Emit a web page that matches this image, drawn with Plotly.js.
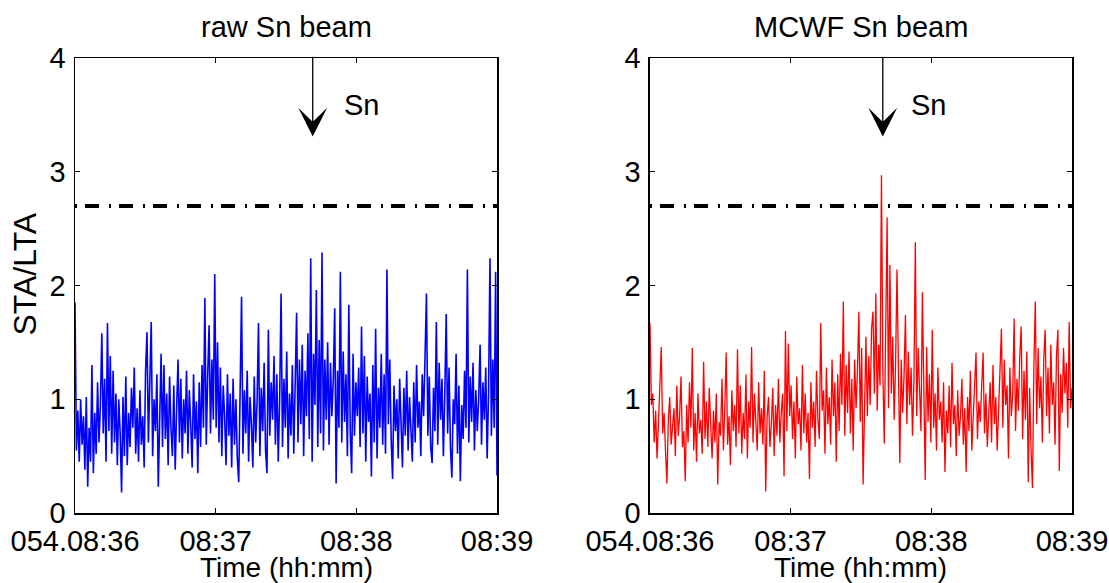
<!DOCTYPE html>
<html>
<head>
<meta charset="utf-8">
<script src="https://cdn.plot.ly/plotly-3.0.1.min.js"></script>
<style>html,body{margin:0;padding:0;background:#fff;}#chart{width:1109px;height:583px;}</style>
</head>
<body>
<div id="chart"></div>
<script>
// ---- data ----
const panelTitles = ['raw Sn beam', 'MCWF Sn beam'];
const xTitle = 'Time (hh:mm)';
const yTitle = 'STA/LTA';
const tickVals = [0, 1, 2, 3];
const tickLabels = ['054.08:36', '08:37', '08:38', '08:39'];
const durationMin = 3;           // minutes shown per panel
const threshold = 2.7;           // STA/LTA trigger level
const snArrowX = [1.69, 1.655];  // Sn arrival (minutes after 08:36)
const snLabelX = [2.04, 1.98];

const rawSn = [
1.85,0.55,0.90,0.45,1.00,0.60,0.85,0.38,1.02,0.23,0.75,0.45,1.30,0.35,0.88,0.52,1.15,0.62,0.95,1.58,
0.70,1.18,0.45,1.67,0.72,1.38,0.52,1.25,0.62,1.05,0.42,1.00,0.70,0.18,1.02,0.50,1.20,0.42,0.88,0.58,
1.10,0.75,1.28,0.52,0.92,0.45,1.08,0.60,0.85,0.40,1.25,1.59,0.62,1.15,1.68,0.50,1.00,0.72,1.22,0.23,
0.90,1.40,0.58,1.30,0.65,1.05,0.42,1.20,0.75,0.50,1.12,0.38,0.92,1.35,0.62,1.18,0.48,1.00,0.70,1.25,
0.52,1.08,0.78,0.40,1.22,0.65,0.98,0.35,1.15,0.58,1.30,0.75,1.89,0.60,1.20,1.65,0.70,1.35,0.82,2.10,
0.75,1.50,0.62,1.28,0.50,1.12,0.85,0.42,1.22,0.68,1.05,0.40,1.18,0.60,1.00,0.48,0.27,1.10,1.90,0.52,
1.08,0.70,1.25,0.45,1.02,0.78,0.40,1.20,0.62,0.98,1.67,0.50,1.10,0.72,1.32,0.55,0.35,1.61,0.68,1.15,
0.82,1.38,0.60,1.22,0.45,1.00,1.93,0.58,1.18,0.75,1.42,0.48,1.05,0.68,1.30,0.52,1.12,1.76,0.62,1.35,
0.78,1.48,0.50,1.25,0.85,1.58,0.65,2.24,0.45,1.40,0.95,1.96,0.58,1.52,0.70,2.29,0.55,1.35,0.82,1.50,
0.60,1.32,0.85,1.18,1.80,0.26,1.25,0.75,2.12,0.62,1.42,0.80,1.22,0.50,1.83,0.72,0.35,1.40,0.68,1.15,
0.85,1.28,0.58,1.64,0.70,1.38,0.45,1.20,0.80,1.05,0.32,1.30,0.62,1.62,0.48,1.10,0.75,1.40,0.60,1.22,
0.52,2.14,0.78,1.35,0.65,0.30,1.12,0.72,1.00,0.48,1.18,0.82,0.40,1.10,0.68,1.25,0.55,1.02,0.78,0.45,
1.15,0.62,1.30,0.75,0.98,0.50,1.22,0.85,1.38,1.93,0.68,1.20,0.58,0.44,1.10,0.72,1.68,0.60,1.32,0.82,
1.18,0.50,1.05,1.75,0.70,1.28,0.58,0.31,1.00,0.78,1.40,0.52,1.12,0.28,0.95,0.65,1.25,0.75,2.14,0.62,
1.20,0.80,1.32,0.55,1.08,0.72,1.00,1.48,0.60,1.15,0.82,1.28,0.48,1.05,2.24,0.68,1.35,0.75,2.12,0.33
];

const mcwfSn = [
1.67,0.95,1.05,0.62,0.90,0.48,0.78,1.10,1.46,0.70,0.88,0.55,0.26,0.82,1.02,0.60,0.75,0.92,0.50,1.12,
0.68,0.85,1.20,0.58,0.72,0.28,0.95,0.62,1.15,0.75,1.45,0.55,0.88,0.45,1.05,0.70,0.82,0.52,1.33,0.65,
0.98,0.58,1.10,0.72,0.48,0.90,0.62,1.05,0.25,0.80,0.68,1.18,0.55,0.92,1.41,0.60,0.85,0.42,1.08,0.72,
0.95,0.58,1.44,0.70,1.12,0.52,0.88,0.65,1.22,0.48,0.98,0.75,1.46,0.62,1.05,0.80,0.55,1.15,0.70,0.92,
0.60,1.25,0.19,0.85,1.02,0.58,0.78,1.10,0.50,0.95,0.68,1.18,0.62,0.88,1.05,0.32,1.60,0.72,1.49,0.85,
1.12,0.65,0.98,0.48,1.20,0.78,0.92,0.55,1.30,0.70,1.05,0.62,0.88,0.30,1.15,0.75,0.98,0.58,1.25,0.82,
0.65,1.67,0.90,1.08,0.52,1.28,0.78,1.02,0.60,1.35,0.85,1.15,0.45,1.22,0.72,1.40,0.95,1.86,0.68,1.30,
0.88,1.42,0.70,1.18,0.55,1.35,0.92,1.25,1.77,0.80,1.45,0.25,1.10,1.55,0.85,1.38,0.95,1.62,1.77,1.05,
1.93,0.90,1.48,1.12,2.97,1.25,0.61,1.40,2.60,0.92,2.18,1.05,1.55,0.82,1.30,2.14,1.02,0.44,1.35,0.88,
1.20,1.74,0.78,1.42,0.95,1.28,0.68,1.15,2.38,0.85,1.45,1.05,0.72,1.94,1.10,0.29,1.46,0.80,1.22,0.62,
1.61,0.75,1.05,0.55,1.28,0.82,0.98,0.62,1.15,0.36,0.90,0.70,1.12,0.58,1.32,0.78,0.95,0.50,1.08,0.68,
0.85,1.18,0.60,0.92,0.36,1.02,0.72,1.25,0.55,0.88,1.10,1.41,0.65,0.98,0.80,1.20,1.41,0.70,1.05,0.58,
0.92,1.15,0.62,1.30,0.78,1.02,0.55,0.88,1.22,1.62,0.75,1.35,0.95,1.12,0.48,1.28,0.85,1.05,1.71,0.72,
1.18,0.90,1.38,1.64,0.65,1.25,0.82,1.42,0.27,1.10,0.55,0.22,1.30,1.86,0.78,1.45,0.92,1.20,0.62,1.35,
1.61,0.85,1.28,0.70,1.48,0.95,1.15,0.60,1.38,1.61,0.37,1.22,0.88,1.45,1.05,1.32,0.75,1.68,0.92,1.10
];

// sample times (minutes after 08:36), evenly sampled
function sampleTimes(n) {
  const dt = durationMin / (n - 1);
  return Array.from({length: n}, (_, i) => i * dt);
}

const FONT = 'Liberation Sans, Arial, Helvetica, sans-serif';
const FS = 29;

const traces = [
  {x: sampleTimes(rawSn.length), y: rawSn, xaxis: 'x', yaxis: 'y', type: 'scatter', mode: 'lines',
   line: {color: '#0000ff', width: 1.6}, showlegend: false, hoverinfo: 'skip'},
  {x: [0, durationMin], y: [threshold, threshold], xaxis: 'x', yaxis: 'y', type: 'scatter', mode: 'lines',
   line: {color: '#000', width: 4, dash: '2px,8px,14px,10px'}, showlegend: false, hoverinfo: 'skip'},
  {x: sampleTimes(mcwfSn.length), y: mcwfSn, xaxis: 'x2', yaxis: 'y2', type: 'scatter', mode: 'lines',
   line: {color: '#ff0000', width: 1.3}, showlegend: false, hoverinfo: 'skip'},
  {x: [0, durationMin], y: [threshold, threshold], xaxis: 'x2', yaxis: 'y2', type: 'scatter', mode: 'lines',
   line: {color: '#000', width: 4, dash: '2px,8px,14px,10px'}, showlegend: false, hoverinfo: 'skip'}
];

function xAxis(domain) {
  return {
    domain: domain, range: [0, durationMin], tickvals: tickVals, ticktext: tickLabels,
    ticks: 'inside', ticklen: 5, tickwidth: 1, tickcolor: '#000',
    showline: true, linecolor: '#000', linewidth: 1.5, mirror: 'allticks',
    showgrid: false, zeroline: false, ticklabelstandoff: 2,
    tickfont: {family: FONT, size: FS, color: '#000'},
    automargin: false, fixedrange: true
  };
}
function yAxis(anchor) {
  return {
    domain: [0, 1], range: [0, 4], tickvals: [0, 1, 2, 3, 4], anchor: anchor,
    ticks: 'inside', ticklen: 5, tickwidth: 1, tickcolor: '#000',
    showline: true, linecolor: '#000', linewidth: 1.5, mirror: 'allticks',
    showgrid: false, zeroline: false, ticklabelstandoff: 2,
    tickfont: {family: FONT, size: FS, color: '#000'},
    automargin: false, fixedrange: true
  };
}

const annotations = [];
const xrefs = ['x', 'x2'], yrefs = ['y', 'y2'];
for (let k = 0; k < 2; k++) {
  annotations.push({
    text: panelTitles[k], xref: xrefs[k] + ' domain', yref: 'paper', x: 0.5, y: 1,
    xanchor: 'center', yanchor: 'middle', yshift: 31, showarrow: false,
    font: {family: FONT, size: FS, color: '#000'}
  });
  annotations.push({
    text: xTitle, xref: xrefs[k] + ' domain', yref: 'paper', x: 0.5, y: 0,
    xanchor: 'center', yanchor: 'middle', yshift: -54, showarrow: false,
    font: {family: FONT, size: 28, color: '#000'}
  });
  annotations.push({
    text: '', xref: xrefs[k], yref: yrefs[k], x: snArrowX[k], y: 3.31,
    axref: xrefs[k], ayref: yrefs[k], ax: snArrowX[k], ay: 4.025,
    showarrow: true, arrowhead: 3, arrowsize: 3.7, arrowwidth: 1.3, arrowcolor: '#000', standoff: 0
  });
  annotations.push({
    text: 'Sn', xref: xrefs[k], yref: yrefs[k], x: snLabelX[k], y: 3.59,
    xanchor: 'center', yanchor: 'middle', showarrow: false,
    font: {family: FONT, size: FS, color: '#000'}
  });
}
annotations.push({
  text: yTitle, textangle: -90, xref: 'paper', yref: 'y domain', x: 0, y: 0.5,
  xanchor: 'center', yanchor: 'middle', xshift: -51, yshift: 11, showarrow: false,
  font: {family: FONT, size: 32, color: '#000'}
});

const layout = {
  width: 1109, height: 583,
  margin: {l: 75, r: 37, t: 58, b: 70, pad: 0},
  paper_bgcolor: '#fff', plot_bgcolor: '#fff',
  xaxis: xAxis([0, 0.4233]),
  yaxis: yAxis('x'),
  xaxis2: xAxis([0.5767, 1]),
  yaxis2: yAxis('x2'),
  annotations: annotations,
  showlegend: false
};

Plotly.newPlot('chart', traces, layout, {displayModeBar: false, staticPlot: true});
</script>
</body>
</html>
